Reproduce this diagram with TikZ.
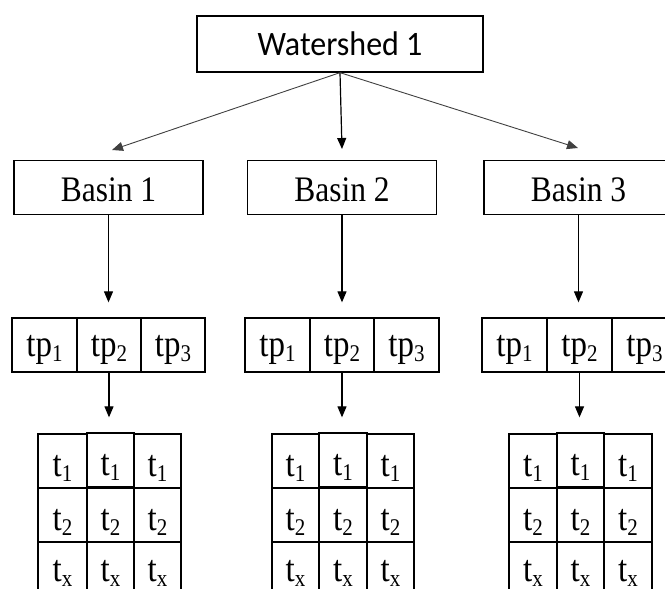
\documentclass[tikz,border=0pt]{standalone}
\usepackage{fontspec}
\usepackage{graphicx}
\setmainfont{Liberation Serif}
\newfontfamily\wsfont{Carlito}
\usetikzlibrary{arrows.meta}

% serif text, slightly stretched vertically
\newcommand\tall[1]{\scalebox{1}[1.14]{#1}}
\newcommand\wide[1]{\scalebox{1}[1.07]{#1}}
\newcommand\sbs[1]{\raisebox{-0.14em}{\fontsize{21}{21}\selectfont #1}}

\tikzset{
  box/.style={draw=black, line width=1.3pt, rectangle, inner sep=0pt, align=center},
  arr/.style={draw=black, line width=1.2pt, -{Triangle[length=11pt,width=9pt]}},
  thinarr/.style={draw=black!75, line width=0.9pt, -{Triangle[length=11pt,width=9pt]}},
}

\begin{document}
\begin{tikzpicture}[x=1pt, y=-1pt]
\useasboundingbox (0,0) rectangle (665,589);
\clip (0,0) rectangle (665,589);

% top node
\node[box, minimum width=286pt, minimum height=56pt, text height=22pt, text depth=0pt,
      font=\wsfont\fontsize{32}{32}\selectfont] (ws) at (340,44) {\wide{Watershed 1}};

% basins
\foreach \i/\cx in {1/108.5, 2/342, 3/578.5}{
  \node[box, minimum width=189pt, minimum height=54pt, text height=27pt, text depth=0pt,
        font=\fontsize{31.5}{31.5}\selectfont] (b\i) at (\cx,187.5) {\tall{Basin \i}};
}

% time-period rows: name/left/right edges
\foreach \b/\xa/\xb/\xc/\xd in {1/12/77/141/205, 2/245/310/374/439, 3/482/547/612/677}{
  \foreach \k/\l/\r in {1/\xa/\xb, 2/\xb/\xc, 3/\xc/\xd}{
    \pgfmathsetmacro\w{\r-\l}
    \pgfmathsetmacro\c{(\r+\l)/2}
    \node[box, minimum width=\w pt, minimum height=54pt, text height=22pt, text depth=0pt,
          font=\fontsize{33}{33}\selectfont] (tp\b-\k) at (\c,345) {\tall{tp\sbs{\k}}};
  }
}

% time grids (row: top edge / subscript / text height)
\foreach \b/\xa/\xb/\xc/\xd in {1/38/87/134/181, 2/272/319/367/414, 3/509/557/604/652}{
  \foreach \k/\l/\r in {1/\xa/\xb, 2/\xb/\xc, 3/\xc/\xd}{
    \foreach \j/\t/\s/\h in {1/434/1/30, 2/488/2/30, 3/542/x/24}{
      \pgfmathsetmacro\w{\r-\l}
      \pgfmathsetmacro\c{(\r+\l)/2}
      \pgfmathsetmacro\m{\t+27 - (\k==2 && \j==1 ? 1 : 0)}
      \node[box, minimum width=\w pt, minimum height=54pt, text height=\h pt, text depth=0pt,
            font=\fontsize{33}{33}\selectfont] (g\b-\j-\k) at (\c,\m) {\tall{t\sbs{\s}}};
    }
  }
}

% arrow tips below the top node
\coordinate (tip1) at (112,150);
\coordinate (tip2) at (342,149);
\coordinate (tip3) at (578,148);
\draw[thinarr] (ws.south) -- (tip1);
\draw[arr] (ws.south) -- (tip2);
\draw[thinarr] (ws.south) -- (tip3);

% basin -> time periods -> time grid
\foreach \b in {1,2,3}{
  \draw[arr, shorten >=15pt] (b\b.south) -- (b\b.south |- tp\b-2.north);
  \draw[arr, shorten >=16pt] (tp\b-2.south) -- (tp\b-2.south |- g\b-1-1.north);
}
\end{tikzpicture}
\end{document}
